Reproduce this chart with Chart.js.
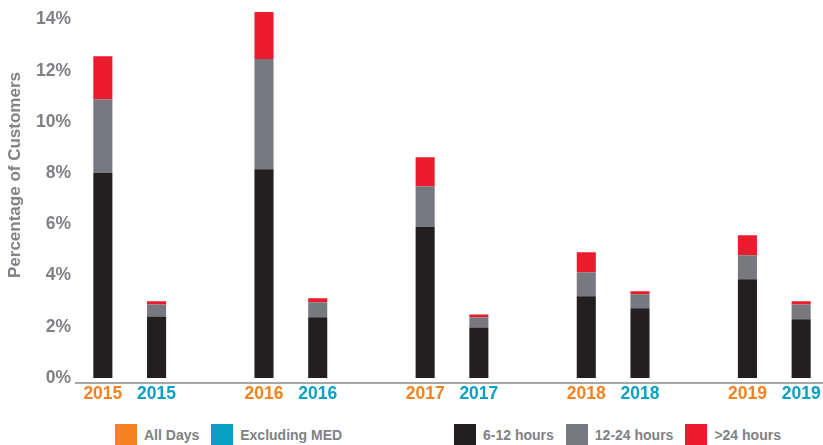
<!DOCTYPE html>
<html>
<head>
<meta charset="utf-8">
<script src="https://cdn.jsdelivr.net/npm/chart.js@4"></script>
<style>
  html, body { margin: 0; padding: 0; background: #fff; overflow: hidden; }
  body { width: 823px; height: 445px; position: relative; font-family: "Liberation Sans", Arial, sans-serif; }
  #wrap { position: absolute; left: 0; top: 0; width: 828px; height: 406px; }
  #ytitle {
    position: absolute; left: 15px; top: 175px;
    transform: translate(-50%, -50%) rotate(-90deg);
    white-space: nowrap; font-weight: bold; font-size: 17px; color: #7f8185;
  }
  .legend { position: absolute; top: 424px; display: flex; align-items: center; }
  .item { display: flex; align-items: center; margin-right: 12px; }
  .sw { width: 22px; height: 22px; margin-right: 7px; }
  .lbl { font-weight: bold; font-size: 14px; color: #7f8185; }
</style>
</head>
<body>
<div id="wrap"><canvas id="myChart"></canvas></div>
<div id="ytitle">Percentage of Customers</div>
<div class="legend" id="legendA" style="left:115px"></div>
<div class="legend" id="legendB" style="left:454px"></div>
<script>
// categories: each year has an "All Days" and an "Excluding MED" bar, with an empty slot between years
const categories = ['2015', '2015', '', '2016', '2016', '', '2017', '2017', '', '2018', '2018', '', '2019', '2019'];
const groups = ['All Days', 'Excluding MED', null, 'All Days', 'Excluding MED', null, 'All Days', 'Excluding MED', null, 'All Days', 'Excluding MED', null, 'All Days', 'Excluding MED'];

// percentage of customers per outage duration
const hours6to12 = [8.00, 2.40, null, 8.15, 2.37, null, 5.89, 1.97, null, 3.19, 2.72, null, 3.85, 2.29];
const hours12to24 = [2.89, 0.47, null, 4.31, 0.58, null, 1.60, 0.40, null, 0.94, 0.55, null, 0.94, 0.58];
const hoursOver24 = [1.68, 0.12, null, 1.83, 0.16, null, 1.13, 0.11, null, 0.78, 0.11, null, 0.78, 0.12];

const yTicks = [0, 2, 4, 6, 8, 10, 12, 14];

const groupNames = ['All Days', 'Excluding MED'];
const groupColors = { 'All Days': '#f58220', 'Excluding MED': '#0aa0c6' };
const seriesNames = ['6-12 hours', '12-24 hours', '>24 hours'];
const seriesColors = ['#231f20', '#77797e', '#ed1b2e'];

const textGray = '#7f8185';
const font = { family: '"Liberation Sans", Arial, sans-serif', weight: 'bold' };

const ctx = document.getElementById('myChart').getContext('2d');
const chart = new Chart(ctx, {
  type: 'bar',
  data: {
    labels: categories,
    datasets: [hours6to12, hours12to24, hoursOver24].map((d, i) => ({
      label: seriesNames[i],
      data: d,
      backgroundColor: seriesColors[i],
      borderWidth: 0,
      categoryPercentage: 1,
      barPercentage: 0.355
    }))
  },
  options: {
    responsive: true,
    maintainAspectRatio: false,
    animation: false,
    layout: { padding: { top: 9.3, right: 0, bottom: 0, left: 0 } },
    plugins: {
      legend: { display: false },
      tooltip: { enabled: false }
    },
    scales: {
      x: {
        stacked: true,
        grid: { display: false, drawTicks: false },
        border: { display: true, color: '#a5a7aa', width: 2 },
        ticks: {
          autoSkip: false,
          maxRotation: 0,
          padding: 1,
          font: { ...font, size: 17.5 },
          color: (c) => groupColors[groups[c.index]] || textGray
        }
      },
      y: {
        stacked: true,
        min: -0.2,
        max: 14.4,
        grid: { display: false, drawTicks: false },
        border: { display: false },
        afterFit: (scale) => { scale.width = 76; scale.paddingTop = 0; },
        afterBuildTicks: (scale) => { scale.ticks = yTicks.map(v => ({ value: v })); },
        ticks: {
          padding: 5,
          font: { ...font, size: 17.5 },
          color: textGray,
          callback: (v) => v + '%'
        }
      }
    }
  }
});

// legend: tick-label colours and duration series
function addItems(el, names, colors) {
  names.forEach((n, i) => {
    const item = document.createElement('div');
    item.className = 'item';
    const sw = document.createElement('div');
    sw.className = 'sw';
    sw.style.background = colors[i];
    const lbl = document.createElement('span');
    lbl.className = 'lbl';
    lbl.textContent = n;
    item.appendChild(sw);
    item.appendChild(lbl);
    el.appendChild(item);
  });
}
addItems(document.getElementById('legendA'), groupNames, groupNames.map(g => groupColors[g]));
addItems(document.getElementById('legendB'), seriesNames, seriesColors);
</script>
</body>
</html>
